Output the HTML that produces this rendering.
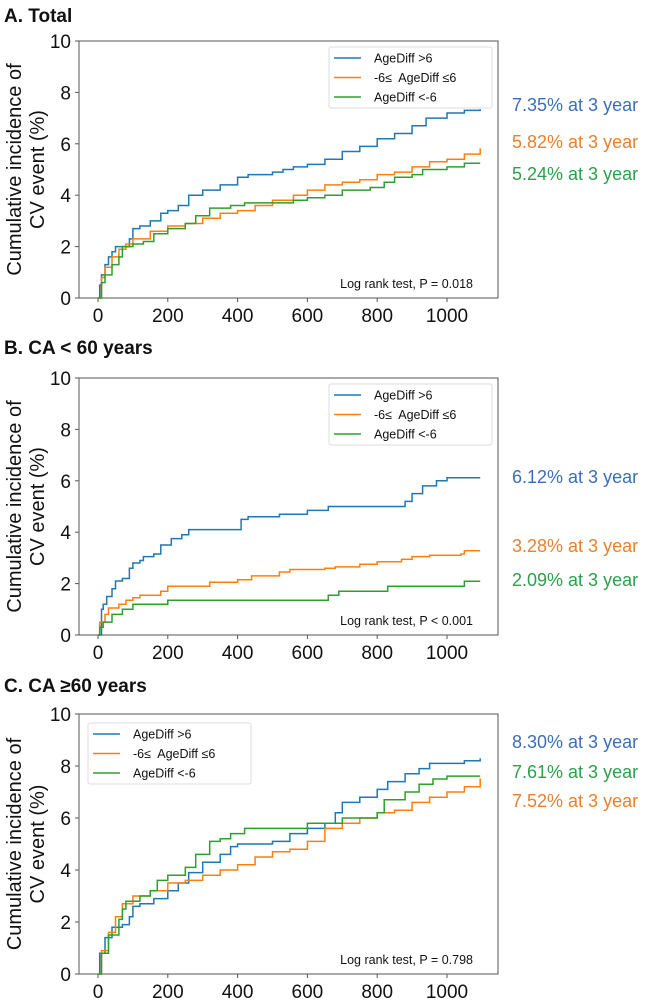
<!DOCTYPE html>
<html><head><meta charset="utf-8"><style>
body{margin:0;background:#fff;width:653px;height:999px;overflow:hidden;font-family:"Liberation Sans",Arial,sans-serif}
</style></head><body>
<svg id="fig" width="653" height="999" xmlns="http://www.w3.org/2000/svg" font-family="Liberation Sans, Arial, sans-serif"></svg>
<script>
// Panel A data (day, cumulative %)
const aBlue=[[0,0],[5,0.5],[10,0.9],[20,1.3],[30,1.6],[40,1.8],[50,2.0],[70,2.0],[90,2.3],[100,2.7],[120,2.8],[150,3.0],[180,3.3],[200,3.4],[230,3.6],[260,4.0],[300,4.2],[350,4.4],[400,4.7],[430,4.8],[500,4.9],[530,5.0],[560,5.1],[600,5.2],[650,5.4],[700,5.7],[750,5.9],[800,6.2],[850,6.4],[900,6.7],[940,7.0],[1000,7.2],[1050,7.3],[1095,7.35]];
const aOrange=[[0,0],[10,0.8],[20,1.2],[40,1.6],[60,1.9],[80,2.1],[100,2.3],[150,2.6],[200,2.8],[250,2.9],[300,3.1],[350,3.3],[400,3.4],[450,3.6],[500,3.8],[530,3.8],[560,4.0],[600,4.2],[650,4.4],[700,4.5],[750,4.6],[800,4.8],[850,4.9],[900,5.1],[950,5.3],[1000,5.4],[1050,5.6],[1095,5.82]];
const aGreen=[[0,0],[10,0.6],[20,0.9],[40,1.3],[60,1.6],[70,2.0],[100,2.1],[130,2.2],[160,2.5],[200,2.7],[250,2.9],[280,3.2],[320,3.5],[380,3.6],[420,3.7],[500,3.7],[560,3.8],[600,3.9],[650,4.0],[700,4.2],[780,4.3],[820,4.5],[850,4.7],[900,4.8],[930,5.0],[1000,5.1],[1050,5.24],[1095,5.24]];
// Panel B data
const bBlue=[[0,0],[10,1.0],[15,1.2],[25,1.5],[40,1.8],[50,2.1],[70,2.2],[90,2.6],[100,2.8],[120,2.9],[130,3.05],[160,3.15],[180,3.5],[210,3.75],[240,3.9],[260,4.1],[400,4.1],[410,4.5],[430,4.6],[520,4.7],[600,4.85],[660,5.0],[840,5.0],[880,5.2],[900,5.5],[930,5.8],[970,6.0],[1000,6.12],[1095,6.12]];
const bOrange=[[0,0],[5,0.5],[20,0.8],[30,1.05],[60,1.2],[80,1.35],[100,1.45],[120,1.55],[180,1.7],[200,1.9],[310,1.9],[320,2.05],[400,2.15],[440,2.3],[520,2.45],[550,2.55],[650,2.6],[680,2.65],[750,2.75],[800,2.85],[870,2.95],[900,3.05],[950,3.1],[1040,3.15],[1050,3.28],[1095,3.28]];
const bGreen=[[0,0],[5,0.3],[15,0.5],[40,0.8],[70,1.0],[100,1.2],[200,1.35],[650,1.35],[660,1.55],[690,1.7],[830,1.9],[1040,1.9],[1050,2.09],[1095,2.09]];
// Panel C data
const cBlue=[[0,0],[5,0.8],[20,1.4],[40,1.8],[70,1.9],[90,2.2],[100,2.6],[120,2.7],[160,2.9],[200,3.2],[230,3.5],[260,3.9],[300,4.3],[350,4.6],[380,4.9],[400,5.0],[500,5.1],[550,5.4],[600,5.6],[650,5.8],[680,6.2],[700,6.6],[750,6.8],[800,7.1],[830,7.4],[880,7.7],[920,7.9],[950,8.1],[1050,8.2],[1095,8.3]];
const cOrange=[[0,0],[10,0.9],[30,1.6],[50,2.2],[70,2.7],[100,3.0],[150,3.2],[200,3.5],[250,3.6],[300,3.8],[350,4.0],[400,4.2],[450,4.5],[500,4.7],[550,4.8],[600,5.1],[650,5.6],[700,5.8],[750,6.0],[800,6.2],[850,6.3],[900,6.6],[950,6.8],[1000,7.0],[1050,7.2],[1095,7.52]];
const cGreen=[[0,0],[10,0.8],[30,1.5],[60,2.1],[70,2.5],[80,2.8],[120,3.0],[150,3.2],[170,3.6],[200,3.8],[250,4.1],[280,4.6],[320,5.1],[350,5.2],[380,5.4],[420,5.6],[550,5.6],[600,5.8],[700,6.0],[800,6.2],[820,6.7],[880,7.0],[920,7.3],[960,7.5],[1000,7.61],[1095,7.61]];
const xTicks=[0,200,400,600,800,1000];
const yTicks=[0,2,4,6,8,10];
const seriesNames=["AgeDiff >6","-6\u2264\u00a0 AgeDiff \u22646","AgeDiff <-6"];
const colors=["#1f77b4","#ff7f0e","#2ca02c"];
const labelColors=["#3a6fb8","#e8802e","#2ca04a"];

const NS="http://www.w3.org/2000/svg";
const svg=document.getElementById('fig');
function mk(tag,attrs,parent){const e=document.createElementNS(NS,tag);for(const k in attrs)e.setAttribute(k,attrs[k]);(parent||svg).appendChild(e);return e;}

const panels=[
 {title:"A. Total",ty:22,top:41,bot:298,series:[aBlue,aOrange,aGreen],p:"Log rank test, P = 0.018",legX:329,legY:47,
  labels:[["7.35% at 3 year",111,0],["5.82% at 3 year",148,1],["5.24% at 3 year",180,2]]},
 {title:"B. CA < 60 years",ty:354,top:378,bot:635,series:[bBlue,bOrange,bGreen],p:"Log rank test, P < 0.001",legX:329,legY:384,
  labels:[["6.12% at 3 year",483,0],["3.28% at 3 year",552,1],["2.09% at 3 year",586,2]]},
 {title:"C. CA \u226560 years",ty:692,top:714,bot:974,series:[cBlue,cOrange,cGreen],p:"Log rank test, P = 0.798",legX:88,legY:723,
  labels:[["8.30% at 3 year",748,0],["7.61% at 3 year",778,2],["7.52% at 3 year",807,1]]}
];
const L=79,R=498,X0=98,X1000=447;
panels.forEach((pn,pi)=>{
  const g=mk('g',{});
  
  
  const xs=v=>X0+(X1000-X0)*v/1000;
  const ys=v=>pn.bot-(pn.bot-pn.top)*v/10;
  const t=mk('text',{x:4,y:pn.ty,'font-size':19,'font-weight':'bold',fill:'#111'},g);t.textContent=pn.title;
  
  const box=mk('rect',{x:L,y:pn.top,width:R-L,height:pn.bot-pn.top,fill:'none',stroke:'#555','stroke-width':1},g);
  
  xTicks.forEach(v=>{
    mk('line',{x1:xs(v),x2:xs(v),y1:pn.bot,y2:pn.bot+4,stroke:'#555'},g);
    const tx=mk('text',{x:xs(v),y:pn.bot+24,'font-size':19,'text-anchor':'middle',fill:'#111'},g);tx.textContent=v;
    
  });
  yTicks.forEach(v=>{
    mk('line',{x1:L-4,x2:L,y1:ys(v),y2:ys(v),stroke:'#555'},g);
    const tx=mk('text',{x:L-8,y:ys(v)+7,'font-size':19,'text-anchor':'end',fill:'#111'},g);tx.textContent=v;
    
  });
  const cy=(pn.top+pn.bot)/2;
  const yl=mk('text',{transform:`translate(21,${cy}) rotate(-90)`,'font-size':20,'text-anchor':'middle',fill:'#111'},g);
  
  const t1=mk('tspan',{x:0,dy:0},yl);t1.textContent="Cumulative incidence of";
  const t2=mk('tspan',{x:0,dy:23},yl);t2.textContent="CV event (%)";
  pn.series.forEach((s,si)=>{
    let d='M'+xs(s[0][0])+','+ys(s[0][1]);
    for(let i=1;i<s.length;i++){d+=' H'+xs(s[i][0]).toFixed(1)+' V'+ys(s[i][1]).toFixed(1);}
    const path=mk('path',{d:d,fill:'none',stroke:colors[si],'stroke-width':1.5},g);
    
    
  });
  const lg=mk('g',{},g);
  
  mk('rect',{x:pn.legX,y:pn.legY,width:163,height:61,rx:2,fill:'#fff',stroke:'#ddd'},lg);
  seriesNames.forEach((n,si)=>{
    const yy=pn.legY+11+si*19.5;
    mk('line',{x1:pn.legX+5,x2:pn.legX+32,y1:yy,y2:yy,stroke:colors[si],'stroke-width':1.5},lg);
    const lt=mk('text',{x:pn.legX+45,y:yy+4.5,'font-size':12.5,fill:'#111'},lg);lt.textContent=n;
    
  });
  const pt=mk('text',{x:473,y:pn.bot-10,'font-size':12.5,'text-anchor':'end',fill:'#111'},g);pt.textContent=pn.p;
  
  pn.labels.forEach(l=>{
    const tt=mk('text',{x:512,y:l[1],'font-size':18,fill:labelColors[l[2]]},g);tt.textContent=l[0];
    
  });
});
</script>
</body></html>
